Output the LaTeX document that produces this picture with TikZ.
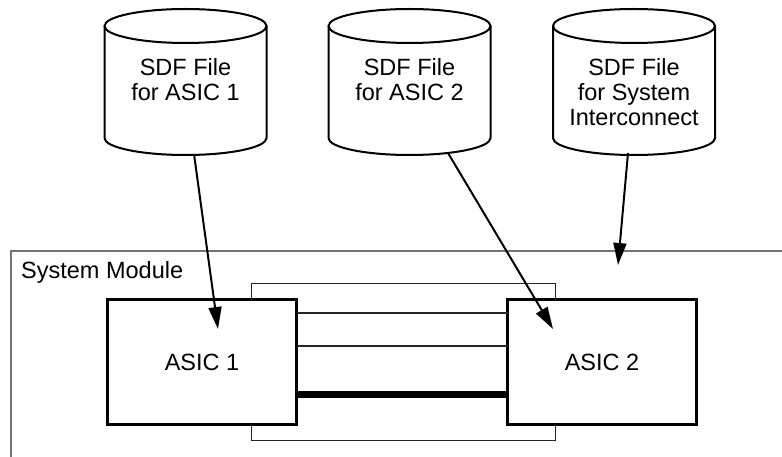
\documentclass[tikz,border=0pt]{standalone}
\usepackage{fontspec}
\setmainfont{Liberation Sans}
\usetikzlibrary{arrows.meta}
\newcommand{\cylbody}[1]{%
  \draw[cylline] ([yshift=-17pt]#1.north west) -- ([yshift=17pt]#1.south west)
    arc[start angle=180,end angle=360,x radius=81pt,y radius=17pt]
    -- ([yshift=-17pt]#1.north east);
  \draw[cylline] ([yshift=-17pt]#1.north) ellipse[x radius=81pt,y radius=17pt];}
\tikzset{
  cyl/.style={rectangle, minimum width=162pt, minimum height=146pt, inner sep=0pt, outer sep=0pt},
  cylline/.style={line width=2pt, black},
  cyltext/.style={anchor=north, align=center, inner sep=0pt, font=\fontsize{23.5}{25}\selectfont},
  asic/.style={draw, line width=3pt, minimum width=189pt, minimum height=125pt, inner sep=0pt, outer sep=0pt, font=\fontsize{23.5}{25}\selectfont},
  bus/.style={line width=1.3pt, black!85},
  thickbus/.style={line width=7pt, black},
  feed/.style={line width=2pt, -{Triangle[length=22pt,width=13pt]}},
  module/.style={line width=1.3pt, black!55},
}
\begin{document}
\begin{tikzpicture}[x=1pt,y=-1pt]
\useasboundingbox (0,0) rectangle (782,457);
% cylinders
\node[cyl] (c1) at (185.5,82) {};
\node[cyl] (c2) at (409.5,82) {};
\node[cyl] (c3) at (634,82) {};
\cylbody{c1}\cylbody{c2}\cylbody{c3}
\node[cyltext] (l1) at (185.5,58.2) {SDF File\\for ASIC 1};
\node[cyltext] (l2) at (409.5,58.2) {SDF File\\for ASIC 2};
\node[cyltext] (l3) at (634,58.2) {SDF File\\for System\\Interconnect};
% system module
\coordinate (mbl) at (11,457);
\coordinate (mtl) at (11,251);
\coordinate (mtr) at (782,251);
\draw[module] (mbl) -- (mtl) -- (mtr);
\node[anchor=base west, inner sep=0pt, font=\fontsize{23.5}{25}\selectfont] (ml) at (21,278) {System Module};
% ASIC boxes
\node[asic] (a1) at (202,362) {ASIC 1};
\node[asic] (a2) at (602,362) {ASIC 2};
% buses
\draw[bus] ([xshift=144pt]a1.north west) -- ++(0,-16) -| ([xshift=48pt]a2.north west);
\draw[bus] ([xshift=144pt]a1.south west) -- ++(0,16) -| ([xshift=48pt]a2.south west);
\draw[bus] ([yshift=49pt]a1.east) -- ([yshift=49pt]a2.west);
\draw[bus] ([yshift=16pt]a1.east) -- ([yshift=16pt]a2.west);
\draw[thickbus] ([yshift=-32pt]a1.east) -- ([yshift=-32pt]a2.west);
% feed arrows
\coordinate (t1) at (218,329);
\coordinate (t2) at (553,329);
\coordinate (t3) at (618,265);
\draw[feed] ([xshift=8.5pt,yshift=1pt]c1.south) -- (t1);
\draw[feed] ([xshift=38.5pt,yshift=2pt]c2.south) -- (t2);
\draw[feed] ([xshift=-6pt,yshift=2pt]c3.south) -- (t3);
\end{tikzpicture}
\end{document}
